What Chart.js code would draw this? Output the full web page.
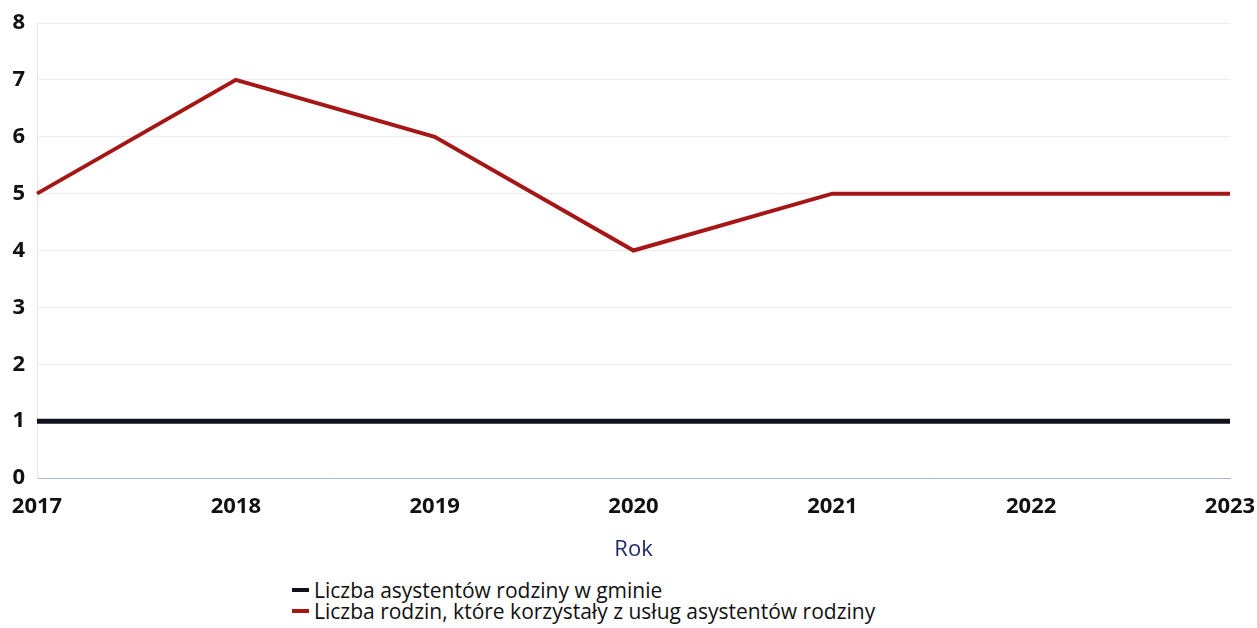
<!DOCTYPE html>
<html lang="pl">
<head>
<meta charset="utf-8">
<script src="https://cdn.jsdelivr.net/npm/chart.js@4/dist/chart.umd.min.js"></script>
<style>
    body { margin: 0; background: #fff; font-family: "Open Sans", sans-serif; }
    #wrap { position: relative; width: 1257px; height: 570px; }
    #legend { position: absolute; left: 292px; top: 579px; }
    .item { display: flex; align-items: center; height: 21px; font-size: 21px; color: #111; }
    .swatch { width: 17px; height: 4px; margin-right: 5px; }
</style>
</head>
<body>
<div id="wrap"><canvas id="chart" width="1257" height="570"></canvas></div>
<div id="legend"></div>

<script>
// ======================================
// Data
// ======================================
const years = ["2017", "2018", "2019", "2020", "2021", "2022", "2023"];
const assistants = [1, 1, 1, 1, 1, 1, 1];
const families = [5, 7, 6, 4, 5, 5, 5];
const seriesNames = [
    "Liczba asystentów rodziny w gminie",
    "Liczba rodzin, które korzystały z usług asystentów rodziny"
];
const seriesColors = ["#10111c", "#a51717"];
const yTicks = [0, 1, 2, 3, 4, 5, 6, 7, 8];

const tickFont = { family: "Open Sans", size: 22, weight: "bold" };

// ======================================
// Chart
// ======================================
const ctx = document.getElementById("chart").getContext("2d");

new Chart(ctx, {
    type: "line",
    data: {
        labels: years,
        datasets: [
            {
                label: seriesNames[0],
                data: assistants,
                borderColor: seriesColors[0],
                borderWidth: 5,
                pointRadius: 0,
                tension: 0
            },
            {
                label: seriesNames[1],
                data: families,
                borderColor: seriesColors[1],
                borderWidth: 4,
                pointRadius: 0,
                tension: 0
            }
        ]
    },
    options: {
        responsive: false,
        animation: false,
        layout: { padding: { top: 23, right: 0, left: 0, bottom: 0 } },
        plugins: {
            legend: { display: false },
            tooltip: { enabled: false }
        },
        scales: {
            x: {
                grid: { display: false },
                border: { display: true, color: "#a9bccf", width: 1 },
                ticks: { color: "#111", font: tickFont, padding: 8, maxRotation: 0 },
                title: {
                    display: true,
                    text: "Rok",
                    color: "#1f2a6a",
                    font: { family: "Open Sans", size: 22 },
                    padding: { top: 0, bottom: 7 }
                },
                afterFit: scale => {
                    scale.height = 92;
                    scale.paddingRight = 27;
                    scale.paddingLeft = 0;
                }
            },
            y: {
                min: 0,
                max: 8,
                afterBuildTicks: scale => {
                    scale.ticks = yTicks.map(v => ({ value: v }));
                },
                grid: { color: "#ececec", lineWidth: 1, drawTicks: false },
                border: { display: true, color: "#e4e4e4" },
                ticks: { color: "#111", font: tickFont, padding: 12 },
                afterFit: scale => {
                    scale.width = 37;
                    scale.paddingTop = 0;
                    scale.paddingBottom = 0;
                }
            }
        }
    }
});

// ======================================
// Legend (stacked, left aligned)
// ======================================
const legend = document.getElementById("legend");
seriesNames.forEach((name, i) => {
    const item = document.createElement("div");
    item.className = "item";
    item.innerHTML = `<span class="swatch" style="background:${seriesColors[i]}"></span>${name}`;
    legend.appendChild(item);
});
</script>
</body>
</html>
